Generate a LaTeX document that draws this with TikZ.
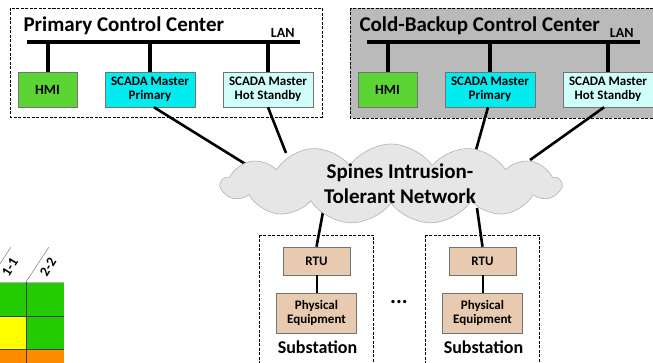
\documentclass[tikz,border=0pt]{standalone}
\usepackage{fontspec}
\setmainfont{Carlito}
\usetikzlibrary{shapes.symbols}

\definecolor{hmigreen}{RGB}{92,212,52}
\definecolor{scadacyan}{RGB}{0,236,240}
\definecolor{standbycyan}{RGB}{208,255,250}
\definecolor{backupgray}{RGB}{186,186,186}
\definecolor{cloudgray}{RGB}{230,230,230}
\definecolor{rtutan}{RGB}{232,202,176}
\definecolor{cellgreen}{RGB}{34,204,0}
\definecolor{cellyellow}{RGB}{255,255,0}
\definecolor{cellorange}{RGB}{255,140,0}

\tikzset{
  box/.style={draw=black!55, line width=0.6pt, align=center, inner sep=0pt,
    font=\bfseries\fontsize{13}{14}\selectfont},
  frame/.style={draw=black, dashed, line width=0.7pt, dash pattern=on 3pt off 1.5pt},
  lan/.style={line width=4pt},
  link/.style={line width=2.6pt},
}

\begin{document}
\begin{tikzpicture}[x=1pt, y=-1pt]
\useasboundingbox (0,0) rectangle (653,363);

% table fragment, lower left
\fill[cellgreen] (-12,282) rectangle (64,316);
\fill[cellyellow] (-12,316) rectangle (26,349);
\fill[cellgreen] (26,316) rectangle (64,349);
\fill[cellorange] (-12,349) rectangle (64,363);
\draw[black!30, line width=0.6pt] (-12,282) -- (64,282);
\draw[black!75, line width=0.7pt] (-12,316) -- (64,316) (-12,349) -- (64,349) (26,282) -- (26,363);
\foreach \x/\text in {-12/1-1, 26/2-2} {
  \draw[black!60, line width=0.4pt] (\x,282) -- ++(23,-35);
  \node[rotate=58, inner sep=0pt, font=\bfseries\fontsize{14}{14}\selectfont] (tab\text) at (\x+22,267) {\text};
}

% control centers
\draw[frame] (10,8) rectangle (322,117);
\draw[frame, fill=backupgray] (350,8) rectangle (657,118);
\node[anchor=base west, font=\bfseries\fontsize{21}{21}\selectfont] (pcc) at (20,32) {Primary Control Center};
\node[anchor=base west, font=\bfseries\fontsize{21}{21}\selectfont] (bcc) at (356,32) {Cold-Backup Control Center};

\foreach \c/\dx/\lanend in {p/0/298, b/340/637} {
  \node[anchor=base east, font=\bfseries\fontsize{14}{14}\selectfont] (\c lan) at (\lanend,38) {LAN};
  \coordinate (\c lanw) at (27+\dx,42);
  \coordinate (\c lane) at (300+\dx,42);
  \node[box, fill=hmigreen, minimum width=59pt, minimum height=35pt,
    font=\bfseries\fontsize{14}{14}\selectfont] (\c hmi) at (47.5+\dx,89.5) {HMI};
  \node[box, fill=scadacyan, minimum width=90pt, minimum height=35pt] (\c prim) at (150+\dx,89.5) {SCADA Master\\Primary};
  \node[box, fill=standbycyan, minimum width=90pt, minimum height=35pt] (\c stby) at (268+\dx,89.5) {SCADA Master\\Hot Standby};
  \draw[lan] (\c lanw) -- (\c lane);
  \foreach \n in {hmi, prim, stby}
    \draw[lan] (\c lanw -| \c\n.north) -- (\c\n.north);
}

% links into the network (the cloud is drawn over their ends)
\coordinate (net1) at (255,170);
\coordinate (net2) at (286,153);
\coordinate (net3) at (476,150);
\coordinate (net4) at (530,160);
\coordinate (net5) at (323,212);
\coordinate (net6) at (477,208);
\draw[link] ([xshift=4pt]pprim.south) -- (net1);
\draw[link] (pstby.south) -- (net2);
\draw[link] ([xshift=-2pt]bprim.south) -- (net3);
\draw[link] ([xshift=-4pt]bstby.south) -- (net4);

% substations
\foreach \s/\x in {l/316.5, r/482.5} {
  \draw[frame] (\x-57.5,235) rectangle (\x+57,367);
  \node[box, fill=rtutan, minimum width=67pt, minimum height=28pt] (\s rtu) at (\x,261) {RTU};
  \node[box, fill=rtutan, minimum width=80pt, minimum height=40pt] (\s phys) at (\x,313) {Physical\\Equipment};
  \node[anchor=base, font=\bfseries\fontsize{18}{18}\selectfont] (\s sub) at (\x+1,353) {Substation};
  \draw[line width=2pt] (\s rtu) -- (\s phys);
}
\draw[link] (net5) -- (lrtu.north);
\draw[link] (net6) -- (rrtu.north);
\node[font=\bfseries\fontsize{22}{22}\selectfont] (dots) at (399,302) {...};

% intrusion-tolerant network
\node[cloud, cloud puffs=13, cloud puff arc=110, aspect=4.2, draw=black!30, fill=cloudgray,
  line width=0.6pt, minimum width=340pt, minimum height=80pt] (net) at (391,184) {};
\node[align=center, font=\bfseries\fontsize{21}{25}\selectfont] (nettext) at (400,184) {Spines Intrusion-\\Tolerant Network};

\end{tikzpicture}
\end{document}
